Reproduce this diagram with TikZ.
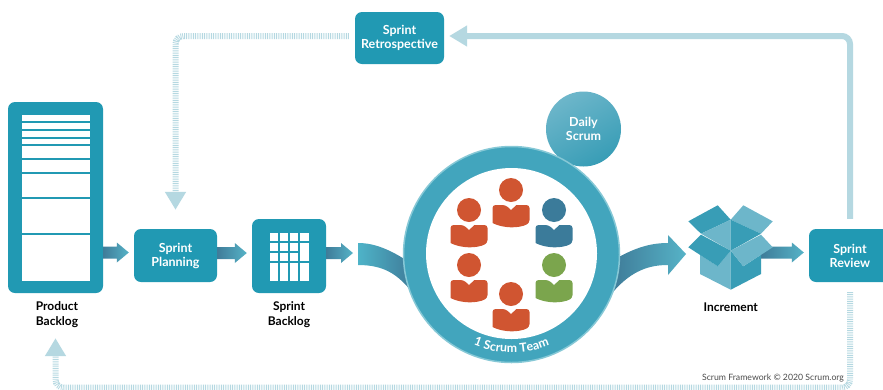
\documentclass[tikz,border=0pt]{standalone}
\usepackage{fontspec}
\setmainfont{Lato}
\usetikzlibrary{calc,arrows.meta,decorations.text}

\definecolor{scrumteal}{HTML}{2199B3}
\definecolor{paleflow}{HTML}{B5D8E1}
\definecolor{arrowdark}{HTML}{3F7C99}
\definecolor{arrowlight}{HTML}{56B3C7}
\definecolor{ringdark}{HTML}{42A5BD}
\definecolor{ringlight}{HTML}{4EB3C8}
\definecolor{ringedge}{HTML}{86C8D6}
\definecolor{boxdark}{HTML}{389DB6}
\definecolor{boxlight}{HTML}{6DB6CA}
\definecolor{personred}{HTML}{D05531}
\definecolor{personblue}{HTML}{3B7B9A}
\definecolor{persongreen}{HTML}{7BA54D}

\tikzset{
	panel/.style={fill=scrumteal,rounded corners=7pt,text=white,align=center,inner sep=0pt,font=\bfseries\fontsize{12.5}{14}\selectfont},
	caption/.style={text=black,align=center,inner sep=0pt,font=\bfseries\fontsize{12}{15}\selectfont},
	blockshade/.style={left color=arrowdark,middle color=arrowlight,right color=arrowlight},
	solidflow/.style={draw=paleflow,line width=6pt,rounded corners=8pt,-{Triangle[width=20pt,length=18pt]}},
	hatchflow/.style={solidflow,dash pattern=on 0.8pt off 1pt},
}

\newcommand{\blockarrow}[2]{
	\path[blockshade] let \p1=(#1), \p2=(#2) in (\x1,\y2+9pt) -- (\x2-17pt,\y2+9pt) -- (\x2-17pt,\y2+13pt) -- (\x2-5pt,\y2+3pt) -- (\x2-17pt,\y2-7pt) -- (\x2-17pt,\y2-3pt) -- (\x1,\y2-3pt) -- cycle;
}

\begin{document}
\begin{tikzpicture}[x=1pt,y=-1pt]
	\clip (0,0) rectangle (883,389);
	\fill[white] (0,0) rectangle (883,389);

	\node[panel,minimum width=95pt,minimum height=191pt] at (55.5,197.5) (product) {};
	\node[panel,minimum width=83pt,minimum height=53pt] at (175.5,255.5) (planning) {Sprint\\Planning};
	\node[panel,minimum width=74pt,minimum height=74pt] at (289,256) (backlog) {};
	\node[panel,minimum width=89pt,minimum height=52pt] at (399.5,38) (retro) {Sprint\\Retrospective};
	\node[panel,minimum width=82pt,minimum height=53pt] at (850,255.5) (review) {Sprint\\Review};

	\node[caption] at (57,314.5) (productlabel) {Product\\Backlog};
	\node[caption] at (289,314.5) (backloglabel) {Sprint\\Backlog};
	\node[caption] at (730.7,307) (incrementlabel) {Increment};
	\node[inner sep=0pt,text=black!70,font=\fontsize{8.7}{10}\selectfont] at (773,378) (credit) {Scrum Framework © 2020 Scrum.org};

	% product backlog sheet
	\fill[white] (22,115) rectangle (90,281);
	\foreach \rowy in {122,130,138,145,159,173,198,234}
		\draw[scrumteal,line width=1.2pt] (22,\rowy) -- (90,\rowy);

	% sprint backlog grid
	\fill[white] (269.7,232.7) rectangle (308.7,280.5);
	\foreach \colx in {279,289,299}
		\draw[scrumteal,line width=1.7pt] (\colx,232.7) -- (\colx,280.5);
	\draw[scrumteal,line width=1.7pt] (269.7,242) -- (308.7,242);
	\draw[scrumteal,line width=1.7pt] (269.7,252) -- (299,252);
	\draw[scrumteal,line width=1.7pt] (269.7,262) -- (308.7,262);

	\draw[solidflow,shorten <=10pt,shorten >=5pt] (review.north) |- ([yshift=2pt]retro.east);
	\draw[hatchflow,shorten <=6pt,shorten >=19pt] ([yshift=2pt]retro.west) -| (planning.north);
	\draw[hatchflow,shorten <=10pt,shorten >=45pt] (review.south) -- ++(0,105.5) -| (product.south);

	\coordinate (swooshin) at (358,256);
	\coordinate (boxout) at (761,256);
	\blockarrow{product.east}{planning.west}
	\blockarrow{planning.east}{backlog.west}
	\blockarrow{backlog.east}{swooshin}
	\blockarrow{boxout}{review.west}

	% swooshes in and out of the team circle
	\path[left color=ringlight,middle color=arrowlight!70!arrowdark,right color=arrowdark] (358,243) .. controls (375,243) and (390,250) .. (406,260) -- (412,292) .. controls (398,275) and (385,265) .. (358,265) -- cycle;
	\path[left color=arrowdark,middle color=arrowlight,right color=arrowlight] (617,258) .. controls (635,248) and (650,243) .. (668,243) -- (668,235) -- (686,254) -- (668,275) -- (668,265) .. controls (650,265) and (632,270) .. (613,292) -- cycle;

	\node[circle,minimum size=75pt,inner sep=0pt,shade,top color=boxlight,bottom color=boxdark,shading angle=30,text=white,align=center,font=\bfseries\fontsize{12.5}{14}\selectfont] at (583.5,129) (daily) {Daily\\Scrum};
	\node[circle,minimum size=216pt,inner sep=0pt,draw=ringedge,line width=1.5pt,shade,top color=ringdark,middle color=ringlight,bottom color=ringdark,shading angle=-35] at (511.5,254.5) (ring) {};
	\node[circle,minimum size=171pt,inner sep=0pt,fill=white] at (511.5,253.5) (ringhole) {};
	\path[decorate,decoration={text along path,text align=center,text={|\color{white}\bfseries\fontsize{12.3}{13}\selectfont|1 Scrum Team}}] (462.5,339.4) .. controls (492.8,356.9) and (530.2,356.9) .. (560.5,339.4);

	\foreach \px/\py/\pcolor in {469/210/personred,511/190/personred,554/210/personblue,469/265/personred,554/265/persongreen,511/294/personred}
		\fill[\pcolor,shift={(\px,\py)}] (0,0) circle (12pt) (-18.5,33) [rounded corners=3pt] -- (-18.5,15) -- (-5.5,15) [sharp corners] -- (0,20) -- (5.5,15) [rounded corners=3pt] -- (18.5,15) -- (18.5,33) [sharp corners] .. controls (8,38.5) and (-8,38.5) .. (-18.5,33) -- cycle;

	% open box
	\fill[boxdark] (688.3,221.3) -- (717.7,205.3) -- (730.7,219.7) -- (701,233.7) -- cycle;
	\fill[boxlight] (743.3,205.3) -- (772.7,221.3) -- (761,233.7) -- (730.7,219.7) -- cycle;
	\fill[boxlight] (701,233.7) -- (730.7,219.7) -- (730.7,250.7) -- cycle;
	\fill[boxdark] (730.7,219.7) -- (761,233.7) -- (730.7,250.7) -- cycle;
	\fill[boxlight] (700,254.7) -- (717.7,266.3) -- (730.7,250.7) -- (730.7,289.7) -- (700,274) -- cycle;
	\fill[boxdark] (730.7,250.7) -- (743.3,266.3) -- (761,254.7) -- (761,274) -- (730.7,289.7) -- cycle;
	\fill[boxdark] (688.3,247.3) -- (701,234.7) -- (730.7,250.7) -- (717.7,266.3) -- cycle;
	\fill[boxlight] (730.7,250.7) -- (761,234.7) -- (772.7,247.3) -- (743.3,266.3) -- cycle;
\end{tikzpicture}
\end{document}
